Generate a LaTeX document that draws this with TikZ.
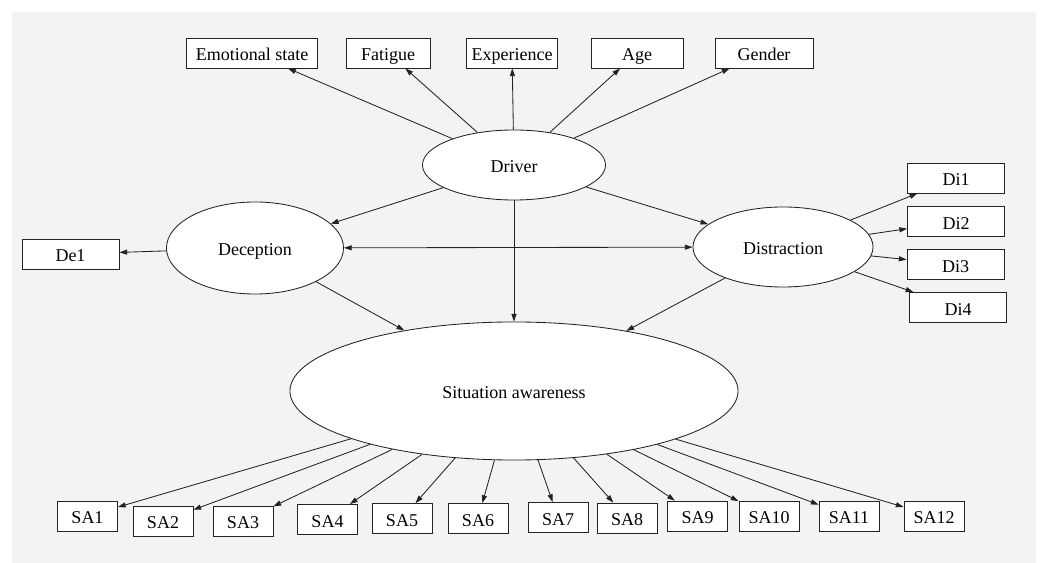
\documentclass[tikz,border=0pt]{standalone}
\usepackage{fontspec}
\setmainfont{Liberation Serif}
\usetikzlibrary{arrows.meta,shapes.geometric}
\definecolor{panelgray}{RGB}{243,243,243}
\definecolor{inkgray}{RGB}{35,35,35}

\begin{document}
\begin{tikzpicture}[x=0.025cm,y=-0.025cm,font=\rmfamily\fontsize{12.8}{15}\selectfont,
  latent/.style={ellipse,draw=inkgray,fill=white,line width=0.6pt,inner sep=0pt,text height=11pt,text depth=0pt},
  obs/.style={rectangle,draw=inkgray,fill=white,line width=0.6pt,inner sep=0pt,minimum height=0.75cm,text height=11pt,text depth=0pt},
  edge/.style={-{Triangle[length=5.5pt,width=3.6pt]},inkgray,line width=0.6pt}]
\useasboundingbox (0,0) rectangle (1041,563);
\fill[panelgray] (12,12) rectangle (1036,563);
% latent variables
\node[latent,minimum width=4.575cm,minimum height=1.75cm] (driver) at (514,165) {Driver};
\node[latent,minimum width=4.425cm,minimum height=2.3cm] (dec) at (255,248) {Deception};
\node[latent,minimum width=4.5cm,minimum height=2cm] (dis) at (783,247) {Distraction};
\node[latent,minimum width=11.2cm,minimum height=3.45cm] (sa) at (514,391) {Situation awareness};
\draw[edge] (driver) -- (dec);
\draw[edge] (driver) -- (dis);
\draw[edge] (driver) -- (sa);
\draw[edge] (dec) -- (sa);
\draw[edge] (dis) -- (sa);
\draw[{Triangle[length=5.5pt,width=3.6pt]}-{Triangle[length=5.5pt,width=3.6pt]},inkgray,line width=0.6pt] (dec) -- (dis);
% driver indicators
\foreach \n/\x/\w/\t in {emo/252/3.275/Emotional state,fat/388/2.1/Fatigue,exp/512/2.275/Experience,age/637/2.3/Age,gen/764/2.45/Gender}{
  \node[obs,minimum width=\w cm] (\n) at (\x,53) {\t};
  \draw[edge] (driver) -- (\n);}
% deception and distraction indicators
\node[obs,minimum width=2.425cm] (de1) at (70.5,254) {De1};
\draw[edge] (dec) -- (de1);
\foreach \i/\x/\y in {1/956/178,2/956/221.5,3/955.5/264.5,4/958/307.5}{
  \node[obs,minimum width=2.425cm] (di\i) at (\x,\y) {Di\i};
  \draw[edge] (dis) -- (di\i);}
% situation awareness items
\foreach \i/\x/\y in {1/87.5/516,2/163/521,3/243/521,4/327.5/519.5,5/402/518.5,6/478/518.5,
  7/558/517.5,8/627/518,9/697.5/516,10/769/516,11/849/516,12/934/516}{
  \node[obs,minimum width=1.5cm] (sa\i) at (\x,\y) {SA\i};
  \draw[edge] (sa) -- (sa\i);}
\end{tikzpicture}
\end{document}
